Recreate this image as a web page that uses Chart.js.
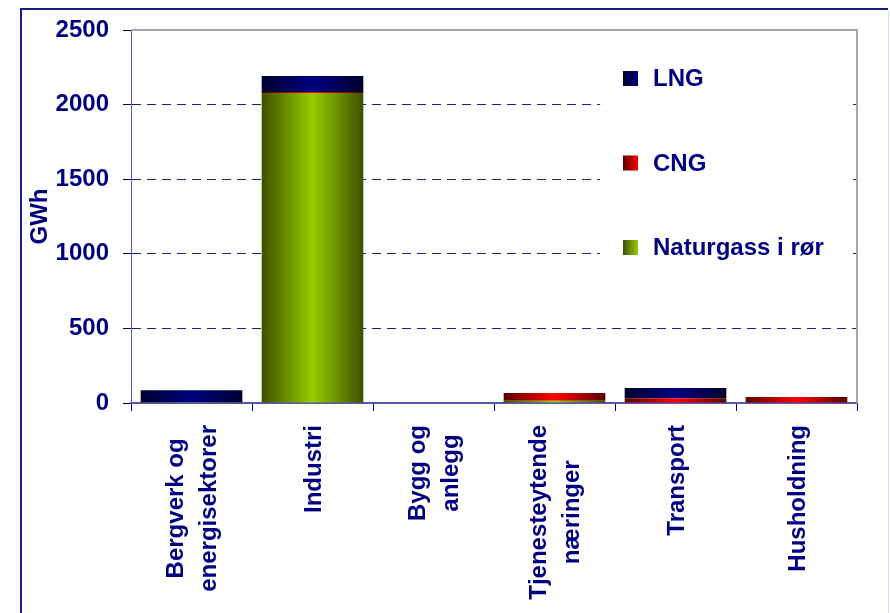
<!DOCTYPE html>
<html>
<head>
<meta charset="utf-8">
<script src="https://cdn.jsdelivr.net/npm/chart.js@4.4.1/dist/chart.umd.min.js"></script>
<style>
  html, body { margin: 0; padding: 0; background: #fff; }
  canvas { display: block; }
</style>
</head>
<body>
<canvas id="gasChart" width="890" height="613"></canvas>
<script>
// Data (GWh)
const categories = [
    ['Bergverk og', 'energisektorer'],
    ['Industri'],
    ['Bygg og', 'anlegg'],
    ['Tjenesteytende', 'næringer'],
    ['Transport'],
    ['Husholdning']
];
const seriesNames = ['Naturgass i rør', 'CNG', 'LNG'];
const naturgass = [5, 2078, 0, 15, 0, 0];
const cng = [0, 7, 0, 52, 32, 40];
const lng = [80, 107, 0, 0, 68, 0];
const yTicks = [0, 500, 1000, 1500, 2000, 2500];

const FONT = "'Liberation Sans', Arial, sans-serif";
const NAVY = '#000080';
const BAR_PCT = 0.84;

// colours: [edge, centre]
const colNatur = ['#3f5000', '#99cc00'];
const colCng = ['#5a0000', '#ff0000'];
const colLng = ['#00002e', '#000080'];

// horizontal gradient across each bar, dark edges and bright middle
function barGradient(cols) {
    return function(context) {
        const chart = context.chart;
        const xs = chart.scales.x;
        if (!xs || context.dataIndex === undefined || !xs.width) return cols[1];
        const c = xs.getPixelForValue(context.dataIndex);
        const w = xs.width / categories.length * BAR_PCT;
        const g = chart.ctx.createLinearGradient(c - w / 2, 0, c + w / 2, 0);
        g.addColorStop(0, cols[0]);
        g.addColorStop(0.5, cols[1]);
        g.addColorStop(1, cols[0]);
        return g;
    };
}

// background, outer frame, plot frame
const framePlugin = {
    id: 'frame',
    beforeDraw(chart) {
        const ctx = chart.ctx;
        ctx.save();
        ctx.fillStyle = '#fff';
        ctx.fillRect(0, 0, chart.width, chart.height);
        ctx.strokeStyle = '#dcdcee';
        ctx.lineWidth = 1;
        ctx.beginPath();
        ctx.moveTo(888.5, 10);
        ctx.lineTo(888.5, chart.height);
        ctx.stroke();
        ctx.strokeStyle = '#1c1c8c';
        ctx.lineWidth = 2;
        ctx.beginPath();
        ctx.moveTo(21, chart.height);
        ctx.lineTo(21, 9);
        ctx.lineTo(888, 9);
        ctx.stroke();
        ctx.restore();
    },
    afterDraw(chart) {
        const a = chart.chartArea;
        const ctx = chart.ctx;
        ctx.save();
        ctx.strokeStyle = '#a6a6a6';
        ctx.lineWidth = 2;
        ctx.beginPath();
        ctx.moveTo(a.left, a.top);
        ctx.lineTo(a.right, a.top);
        ctx.lineTo(a.right, a.bottom);
        ctx.stroke();
        ctx.restore();
    }
};

// legend box inside the plot, order LNG, CNG, Naturgass
const legendPlugin = {
    id: 'sideLegend',
    afterDatasetsDraw(chart) {
        const ctx = chart.ctx;
        const items = [
            { text: seriesNames[2], cols: colLng },
            { text: seriesNames[1], cols: colCng },
            { text: seriesNames[0], cols: colNatur }
        ];
        ctx.save();
        ctx.fillStyle = '#fff';
        ctx.fillRect(600, 50, 253, 222);
        ctx.font = 'bold 24px ' + FONT;
        ctx.textBaseline = 'middle';
        ctx.textAlign = 'left';
        items.forEach((it, i) => {
            const cy = 78.5 + i * 84.5;
            const g = ctx.createLinearGradient(623, 0, 638, 0);
            g.addColorStop(0, it.cols[0]);
            g.addColorStop(1, it.cols[1]);
            ctx.fillStyle = g;
            ctx.fillRect(623, cy - 7.5, 15, 15);
            ctx.fillStyle = NAVY;
            ctx.fillText(it.text, 653, cy + 1);
        });
        ctx.restore();
    }
};

// category labels, rotated, lines centred on each other
const xLabelPlugin = {
    id: 'xLabels',
    afterDraw(chart) {
        const xs = chart.scales.x;
        const ctx = chart.ctx;
        ctx.save();
        ctx.font = 'bold 24px ' + FONT;
        ctx.fillStyle = NAVY;
        ctx.textAlign = 'center';
        ctx.textBaseline = 'alphabetic';
        categories.forEach((lines, i) => {
            const cx = xs.getPixelForValue(i);
            const maxW = Math.max(...lines.map(l => ctx.measureText(l).width));
            const y = chart.chartArea.bottom + 22 + maxW / 2;
            lines.forEach((line, j) => {
                const bx = cx + 8 + (j - (lines.length - 1) / 2) * 33;
                ctx.save();
                ctx.translate(bx, y);
                ctx.rotate(-Math.PI / 2);
                ctx.fillText(line, 0, 0);
                ctx.restore();
            });
        });
        ctx.restore();
    }
};

new Chart(document.getElementById('gasChart'), {
    type: 'bar',
    data: {
        labels: categories.map(c => c.join(' ')),
        datasets: [
            { label: seriesNames[0], data: naturgass, backgroundColor: barGradient(colNatur) },
            { label: seriesNames[1], data: cng, backgroundColor: barGradient(colCng) },
            { label: seriesNames[2], data: lng, backgroundColor: barGradient(colLng) }
        ]
    },
    options: {
        responsive: false,
        animation: false,
        events: [],
        layout: { padding: { top: 30, right: 33, bottom: 0, left: 0 } },
        datasets: {
            bar: { barPercentage: BAR_PCT, categoryPercentage: 1, borderWidth: 0 }
        },
        plugins: {
            legend: { display: false },
            tooltip: { enabled: false },
            title: { display: false }
        },
        scales: {
            x: {
                stacked: true,
                afterFit(scale) { scale.height = 210; },
                ticks: { display: false },
                grid: {
                    display: true,
                    offset: true,
                    drawOnChartArea: false,
                    drawTicks: true,
                    tickLength: 8,
                    tickColor: NAVY,
                    tickWidth: 1
                },
                border: { display: true, color: '#5656a8', width: 2 }
            },
            y: {
                stacked: true,
                min: 0,
                max: 2500,
                afterFit(scale) { scale.width = 131; },
                afterBuildTicks(scale) { scale.ticks = yTicks.map(v => ({ value: v })); },
                ticks: {
                    padding: 14,
                    color: NAVY,
                    font: { family: FONT, size: 24, weight: 'bold' },
                    callback: v => String(v)
                },
                title: {
                    display: true,
                    text: 'GWh',
                    color: NAVY,
                    font: { family: FONT, size: 24, weight: 'bold', lineHeight: 1.2 },
                    padding: { top: 26, bottom: 0 }
                },
                grid: {
                    color: '#1c1ca0',
                    lineWidth: 1,
                    drawTicks: true,
                    tickLength: 8,
                    tickColor: NAVY,
                    tickBorderDash: []
                },
                border: { display: true, color: '#5656a8', width: 1, dash: [9, 6] }
            }
        }
    },
    plugins: [framePlugin, legendPlugin, xLabelPlugin]
});
</script>
</body>
</html>
